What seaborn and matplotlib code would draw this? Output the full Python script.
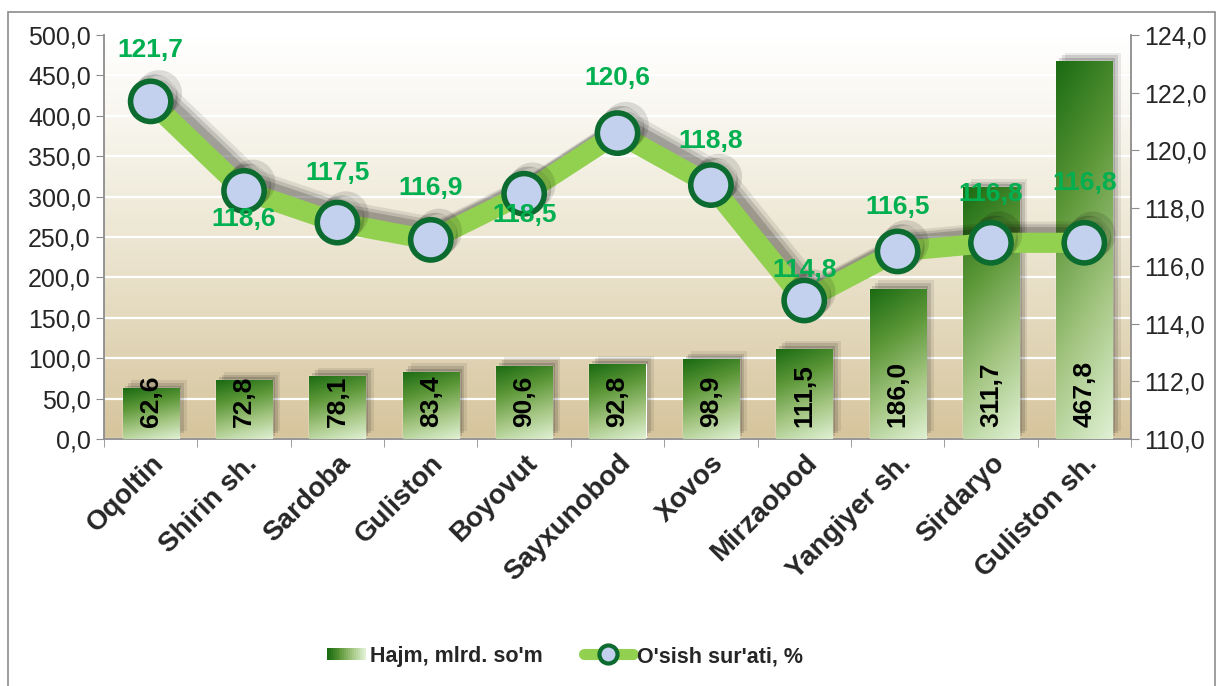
import numpy as np
import pandas as pd
import matplotlib
matplotlib.use('Agg')
import matplotlib.pyplot as plt
import matplotlib.patheffects as pe
from matplotlib.colors import LinearSegmentedColormap
from matplotlib.patches import Rectangle
from matplotlib.lines import Line2D
from matplotlib.legend_handler import HandlerBase
from matplotlib.ticker import FuncFormatter, MultipleLocator
import seaborn as sns

districts = ['Oqoltin', 'Shirin sh.', 'Sardoba', 'Guliston', 'Boyovut', 'Sayxunobod',
             'Xovos', 'Mirzaobod', 'Yangiyer sh.', 'Sirdaryo', 'Guliston sh.']
volume = [62.6, 72.8, 78.1, 83.4, 90.6, 92.8, 98.9, 111.5, 186.0, 311.7, 467.8]
growth = [121.7, 118.6, 117.5, 116.9, 118.5, 120.6, 118.8, 114.8, 116.5, 116.8, 116.8]
label_dy = [37, -20, 36, 37, -15, 40, 32, 22, 32, 35, 43]  # label offsets, points

sns.set_style('white')
plt.rcParams['font.family'] = ['Liberation Sans', 'DejaVu Sans']

df = pd.DataFrame({'district': districts, 'volume': volume, 'growth': growth})

bar_cmap = LinearSegmentedColormap.from_list('bar', ['#1b6b12', '#5c9738', '#a4c682', '#dff0d3'])
bg_cmap = LinearSegmentedColormap.from_list('bg', ['#ffffff', '#f3f0e3', '#e6dcc2', '#d6c49c'])
fmt = FuncFormatter(lambda v, _: f'{v:.1f}'.replace('.', ','))

fig = plt.figure(figsize=(12.22, 6.86), dpi=100)
ax = fig.add_axes([104 / 1222, 1 - 439 / 686, (1131 - 104) / 1222, (439 - 35) / 686])

# background gradient
bg = np.linspace(0, 1, 200).reshape(-1, 1)
ax.imshow(bg, cmap=bg_cmap, aspect='auto', extent=[0, 1, 0, 1], transform=ax.transAxes,
          zorder=-1, origin='upper')

sns.barplot(data=df, x='district', y='volume', color='#4e8a2e', width=0.6, ax=ax,
            saturation=1, zorder=2)

shadow_fx = [pe.SimplePatchShadow(offset=(o, o), shadow_rgbFace='k', alpha=a)
             for o, a in [(6, 0.08), (4, 0.12), (2, 0.15)]] + [pe.Normal()]
yy, xx = np.mgrid[0:1:120j, 0:1:30j]
grad = 0.8 * yy + 0.2 * xx
for p in list(ax.patches):
    p.set_path_effects(shadow_fx)
    x0, w, h = p.get_x(), p.get_width(), p.get_height()
    im = ax.imshow(grad, cmap=bar_cmap, aspect='auto', extent=[x0, x0 + w, 0, h],
                   origin='upper', zorder=3)
    im.set_clip_path(p)

for i, v in enumerate(volume):
    ax.text(i, 15, f'{v:.1f}'.replace('.', ','), rotation=90, ha='center', va='bottom',
            fontsize=19, fontweight='bold', color='black', zorder=4)

ax.set_xlim(-0.5, len(districts) - 0.5)
ax.set_ylim(0, 500)
ax.yaxis.set_major_locator(MultipleLocator(50))
ax.yaxis.set_major_formatter(fmt)
ax.grid(axis='y', color='white', linewidth=1.6)
ax.set_axisbelow(True)
ax.set_xlabel('')
ax.set_ylabel('')
ax.set_xticks(range(len(districts)))
ax.set_xticklabels(districts, rotation=45, ha='right', rotation_mode='anchor',
                   fontsize=20, fontweight='bold')
ax.set_xticks(np.arange(-0.5, len(districts), 1), minor=True)
ax.tick_params(axis='x', which='major', length=0, pad=8)
ax.tick_params(axis='x', which='minor', length=6, color='#8c8c8c', direction='out', bottom=True)
ax.tick_params(axis='y', length=6, color='#8c8c8c', direction='out', left=True, labelsize=18)
for s in ['top', 'right']:
    ax.spines[s].set_visible(False)
for s in ['left', 'bottom']:
    ax.spines[s].set_color('#8c8c8c')
    ax.spines[s].set_linewidth(1.3)

# growth line on secondary axis
ax2 = ax.twinx()
xs = np.arange(len(growth))
sns.lineplot(x=xs, y=growth, ax=ax2, color='#92d050', linewidth=14.5, zorder=5)
sns.lineplot(x=xs, y=growth, ax=ax2, linestyle='', marker='o', markersize=29,
             markerfacecolor='#c3d1ee', markeredgecolor='#0c6b2e', markeredgewidth=4, zorder=6)
ax2.lines[0].set_path_effects(
    [pe.SimpleLineShadow(offset=(o, o), shadow_color='k', alpha=a)
     for o, a in [(8, 0.09), (6, 0.13), (4, 0.17)]] + [pe.Normal()])
ax2.lines[1].set_path_effects(
    [pe.SimpleLineShadow(offset=(o, o), shadow_color='k', alpha=a)
     for o, a in [(6, 0.12), (3, 0.18)]] + [pe.Normal()])
for i, g in enumerate(growth):
    ax2.annotate(f'{g:.1f}'.replace('.', ','), (i, g), xytext=(0, label_dy[i]),
                 textcoords='offset points', ha='center', va='center', fontsize=19,
                 fontweight='bold', color='#00b050', zorder=7)
ax2.set_ylim(110, 124)
ax2.yaxis.set_major_locator(MultipleLocator(2))
ax2.yaxis.set_major_formatter(fmt)
ax2.tick_params(axis='y', length=6, color='#8c8c8c', direction='out', right=True, labelsize=18)
ax2.grid(False)
for s in ['top', 'left', 'bottom']:
    ax2.spines[s].set_visible(False)
ax2.spines['right'].set_color('#8c8c8c')
ax2.spines['right'].set_linewidth(1.3)
ax2.set_xlim(-0.5, len(districts) - 0.5)


class GradientHandler(HandlerBase):
    def create_artists(self, legend, orig, xd, yd, width, height, fontsize, trans):
        n = 20
        w = width * 0.78
        out = []
        for k in range(n):
            out.append(Rectangle((xd + width - w + w * k / n, yd + height * 0.1), w / n + 0.3,
                                 height * 0.8, facecolor=bar_cmap(k / (n - 1)),
                                 edgecolor='none', transform=trans))
        return out


bar_handle = Rectangle((0, 0), 1, 1)
line_handle = Line2D([], [], color='#92d050', linewidth=8, marker='o', markersize=13,
                     markerfacecolor='#c3d1ee', markeredgecolor='#0c6b2e', markeredgewidth=3)
fig.legend([bar_handle, line_handle], ["Hajm, mlrd. so'm", "O'sish sur'ati, %"],
           handler_map={Rectangle: GradientHandler()}, loc='center',
           bbox_to_anchor=(0.458, 0.043), ncol=2, frameon=False, handlelength=2.3,
           columnspacing=1.9, handletextpad=0.2,
           prop={'weight': 'bold', 'size': 15.5})

fig.add_artist(Rectangle((8 / 1222, -0.01), (1215 - 8) / 1222, 1 - 12 / 686 + 0.01,
                         transform=fig.transFigure, fill=False, edgecolor='#8c8c8c',
                         linewidth=1.2))

fig.savefig('out.png', dpi=100)
